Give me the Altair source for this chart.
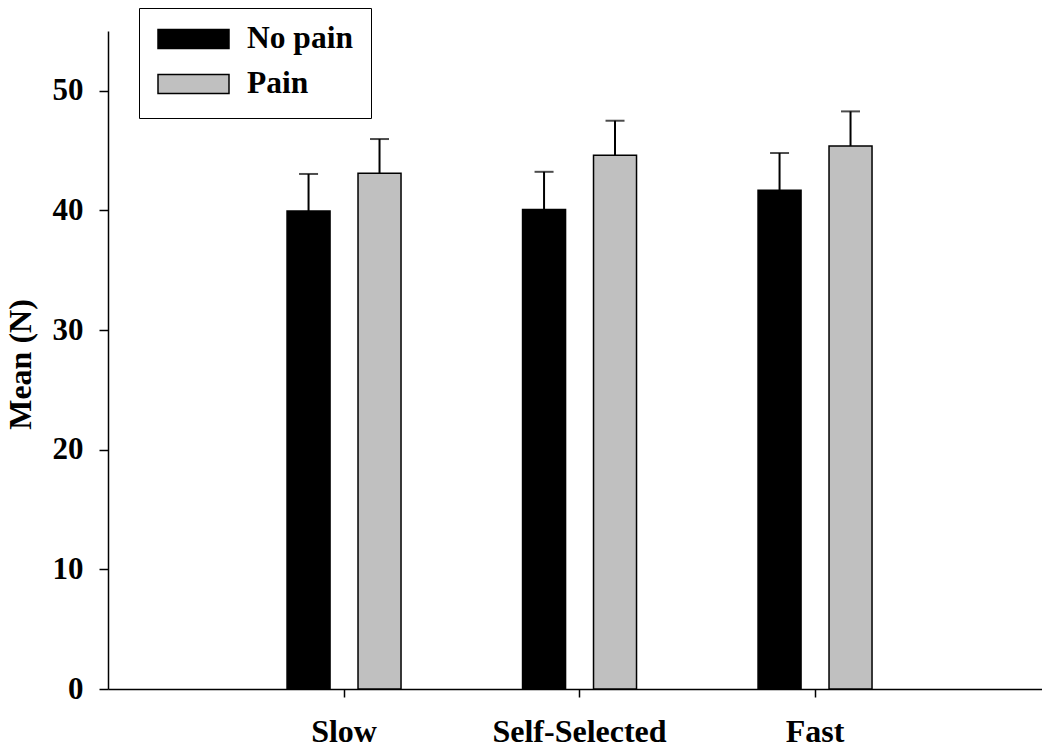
import altair as alt
import pandas as pd

speeds = ["Slow", "Self-Selected", "Fast"]
groups = ["No pain", "Pain"]
mean_no_pain = [39.95, 40.09, 41.69]
mean_pain = [43.10, 44.62, 45.39]
sem_no_pain = [3.10, 3.14, 3.11]
sem_pain = [2.87, 2.88, 2.89]
y_ticks = [0, 10, 20, 30, 40, 50]
colors = ["#000000", "#c0c0c0"]

rows = []
for i, s in enumerate(speeds):
    rows.append(dict(speed=s, group=groups[0], mean=mean_no_pain[i], sem=sem_no_pain[i]))
    rows.append(dict(speed=s, group=groups[1], mean=mean_pain[i], sem=sem_pain[i]))
df = pd.DataFrame(rows)

FONT = "Liberation Serif"
W, H = 934, 658

x_axis = alt.Axis(
    title=None, labelAngle=0, labelFontSize=32, labelFont=FONT,
    labelFontWeight="bold", labelColor="black", tickSize=8, labelPadding=19,
    domainColor="black", tickColor="black", domainWidth=1.5, tickWidth=1.5,
    grid=False,
)
x = alt.X("speed:N", sort=speeds,
          scale=alt.Scale(paddingInner=0.516, paddingOuter=0.741, align=0.513),
          axis=x_axis)
xo = alt.XOffset("group:N", sort=groups,
                 scale=alt.Scale(paddingInner=0.394, paddingOuter=0))

y_axis = alt.Axis(
    values=y_ticks, title="Mean (N)", grid=False,
    labelFontSize=31, labelFont=FONT, labelFontWeight="bold", labelColor="black",
    labelPadding=16, tickSize=9, domainColor="black", tickColor="black",
    domainWidth=1.5, tickWidth=1.5,
    titleFont=FONT, titleFontSize=32, titleFontWeight="bold", titleColor="black",
    titleAngle=270, titleX=-78, titleY=333, titleAlign="center",
    titleBaseline="alphabetic",
)
y_scale = alt.Scale(domain=[0, 55], nice=False, zero=True)


def make_y(field):
    return alt.Y(field, scale=y_scale, axis=y_axis, title="Mean (N)")


legend = alt.Legend(
    title=None, orient="none", legendX=31, legendY=-23,
    symbolType="M-1,-0.268H1V0.268H-1Z", symbolSize=5041,
    clipHeight=26, rowPadding=13, padding=18,
    strokeColor="black", fillColor="white",
    labelFont=FONT, labelFontSize=31.5, labelFontWeight="bold", labelColor="black",
    labelOffset=17, symbolStrokeColor="black", symbolStrokeWidth=1.5,
    symbolOpacity=1,
)

base = alt.Chart(df).transform_calculate(upper="datum.mean + datum.sem")

bars = base.mark_bar(stroke="black", strokeWidth=1.5).encode(
    x=x, xOffset=xo, y=make_y("mean:Q"),
    color=alt.Color("group:N", sort=groups,
                    scale=alt.Scale(domain=groups, range=colors),
                    legend=legend),
)

rules = base.mark_rule(color="black", strokeWidth=2).encode(
    x=x, xOffset=xo, y=make_y("mean:Q"), y2="upper:Q",
)

caps = base.mark_tick(color="black", thickness=2, size=19, orient="horizontal").encode(
    x=x, xOffset=xo, y=make_y("upper:Q"),
)

chart = alt.layer(bars, rules, caps).properties(
    width=W, height=H, autosize="none", background="white",
    padding={"left": 100, "top": 23, "right": 0, "bottom": 55},
).configure_view(strokeWidth=0, stroke="transparent").configure_axis(
    grid=False
)

chart.save("out.html", embed_options={"renderer": "svg", "actions": False})
